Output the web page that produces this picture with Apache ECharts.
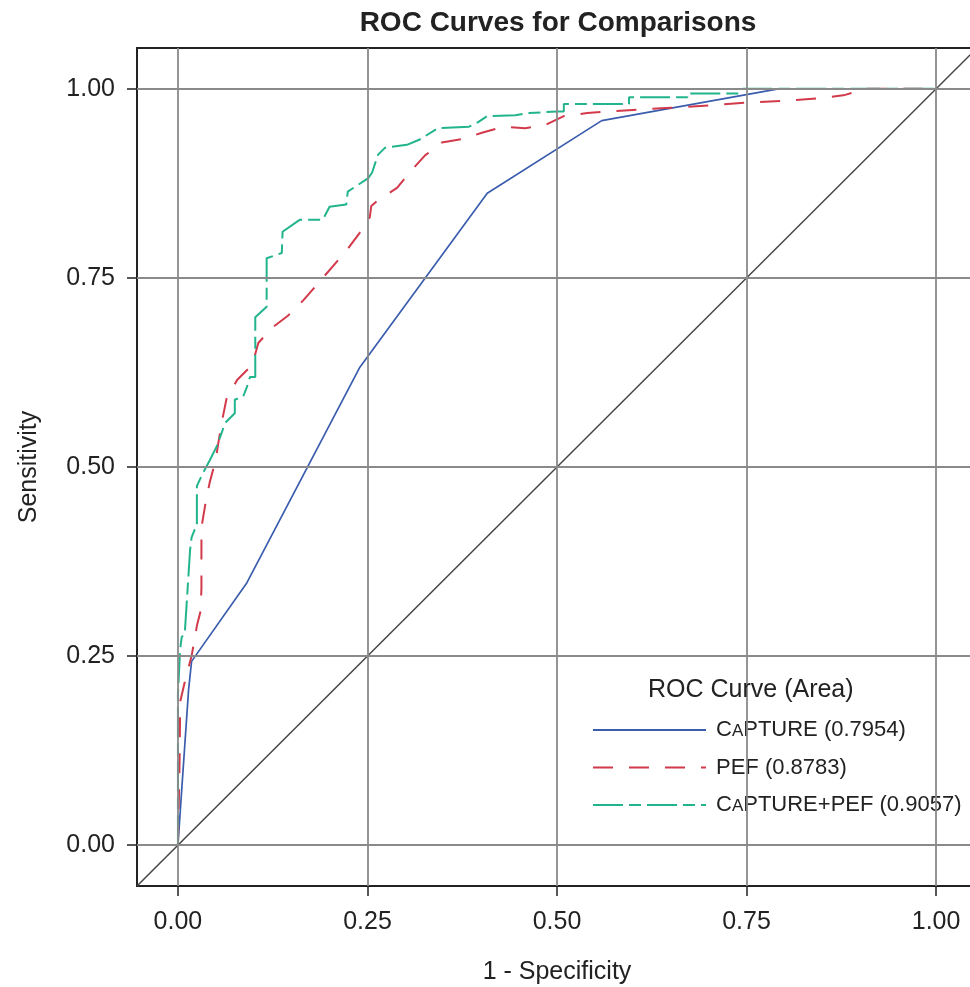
<!DOCTYPE html>
<html>
<head>
<meta charset="utf-8">
<script src="https://cdn.jsdelivr.net/npm/echarts@6/dist/echarts.min.js"></script>
<style>
html,body{margin:0;padding:0;background:#fff;}
#chart{width:970px;height:987px;}
</style>
</head>
<body>
<div id="chart"></div>
<script>
// ---- data ----
const tickValues = [0, 0.25, 0.5, 0.75, 1.0];
const axisMin = -0.054;
const axisMax = 1.054;

const seriesNames = ['CAPTURE (0.7954)', 'PEF (0.8783)', 'CAPTURE+PEF (0.9057)'];

const captureX = [0, 0.014, 0.018, 0.091, 0.240, 0.408, 0.559, 0.792, 1.0];
const captureY = [0, 0.205, 0.243, 0.347, 0.632, 0.862, 0.958, 1.0, 1.0];

const pefX = [0, 0.002, 0.003, 0.010, 0.018, 0.025, 0.030, 0.031, 0.031, 0.036, 0.042, 0.050, 0.053, 0.058, 0.064,
  0.078, 0.098, 0.106, 0.124, 0.145, 0.165, 0.185, 0.204, 0.223, 0.240, 0.253, 0.255, 0.264, 0.289, 0.306,
  0.326, 0.348, 0.377, 0.401, 0.430, 0.458, 0.484, 0.509, 0.540, 0.566, 0.600, 0.650, 0.700, 0.750, 0.800,
  0.850, 0.880, 0.906, 1.0];
const pefY = [0, 0.100, 0.190, 0.220, 0.250, 0.290, 0.310, 0.340, 0.420, 0.450, 0.480, 0.510, 0.530, 0.560, 0.590,
  0.615, 0.635, 0.664, 0.684, 0.700, 0.720, 0.743, 0.765, 0.787, 0.810, 0.830, 0.845, 0.853, 0.869, 0.890,
  0.912, 0.929, 0.934, 0.942, 0.950, 0.948, 0.952, 0.964, 0.968, 0.970, 0.972, 0.975, 0.978, 0.982, 0.984,
  0.988, 0.992, 1.0, 1.0];

const combX = [0, 0, 0.003, 0.005, 0.009, 0.016, 0.018, 0.022, 0.025, 0.025, 0.033, 0.042, 0.051, 0.058, 0.062,
  0.075, 0.075, 0.086, 0.091, 0.095, 0.102, 0.102, 0.117, 0.117, 0.137, 0.138, 0.161, 0.191, 0.200, 0.222,
  0.224, 0.251, 0.256, 0.264, 0.273, 0.302, 0.319, 0.343, 0.384, 0.396, 0.408, 0.445, 0.463, 0.500, 0.509,
  0.509, 0.595, 0.595, 0.672, 0.672, 0.740, 0.745, 1.0];
const combY = [0, 0.200, 0.260, 0.275, 0.280, 0.390, 0.407, 0.417, 0.420, 0.475, 0.492, 0.509, 0.527, 0.546, 0.558,
  0.571, 0.589, 0.593, 0.606, 0.619, 0.619, 0.698, 0.712, 0.776, 0.783, 0.811, 0.827, 0.827, 0.844, 0.847,
  0.864, 0.882, 0.889, 0.913, 0.922, 0.926, 0.933, 0.948, 0.950, 0.956, 0.964, 0.965, 0.968, 0.970, 0.970,
  0.980, 0.980, 0.989, 0.989, 0.994, 0.994, 1.0, 1.0];

const colors = ['#3B5DAD', '#D2394A', '#22B48C'];

// ---- build ----
const zip = (xs, ys) => xs.map((x, i) => [x, ys[i]]);
const FONT = '"Liberation Sans", Arial, Helvetica, sans-serif';
const fmt = v => v.toFixed(2);

const chart = echarts.init(document.getElementById('chart'), null, {renderer: 'canvas'});

const option = {
  animation: false,
  backgroundColor: '#fff',
  textStyle: {fontFamily: FONT, color: '#222'},
  title: [
    {
      text: 'ROC Curves for Comparisons',
      left: 558, top: 9, textAlign: 'center', padding: 0,
      textStyle: {fontFamily: FONT, fontSize: 28, fontWeight: 'bold', color: '#222'}
    },
    {
      text: 'ROC Curve (Area)',
      left: 648, top: 678, padding: 0, z: 10,
      textStyle: {fontFamily: FONT, fontSize: 25, fontWeight: 'normal', color: '#222'}
    }
  ],
  grid: {
    left: 137, top: 48, width: 840, bottom: 101,
    containLabel: false,
    outerBoundsMode: 'none',
    show: true, borderColor: '#222', borderWidth: 2, backgroundColor: '#fff'
  },
  legend: {
    left: 573, top: 658,
    orient: 'vertical',
    backgroundColor: '#fff',
    padding: [61, 90, 28, 19],
    itemWidth: 113, itemHeight: 14, itemGap: 15.5,
    itemStyle: {opacity: 0},
    data: seriesNames,
    formatter: name => name.replace('CAPTURE', 'C{s|A}PTURE'),
    textStyle: {
      fontFamily: FONT, fontSize: 22, lineHeight: 22, color: '#222',
      padding: [0, 0, 0, 5],
      rich: {s: {fontFamily: FONT, fontSize: 17, lineHeight: 17, color: '#222', verticalAlign: 'bottom', padding: [0, 0, 1, 0]}}
    },
    z: 5
  },
  xAxis: {
    type: 'value', min: axisMin, max: axisMax,
    name: '1 - Specificity', nameLocation: 'middle', nameGap: 74,
    nameTextStyle: {fontFamily: FONT, fontSize: 25, color: '#222'},
    axisLine: {show: true, onZero: false, lineStyle: {color: '#222', width: 2}},
    axisTick: {show: true, customValues: tickValues, length: 10, inside: false, lineStyle: {color: '#222', width: 1.5}},
    axisLabel: {customValues: tickValues, formatter: fmt, margin: 24, fontSize: 25, fontFamily: FONT, color: '#222'},
    splitLine: {show: false}
  },
  yAxis: {
    type: 'value', min: axisMin, max: axisMax,
    name: 'Sensitivity', nameLocation: 'middle', nameGap: 95, nameRotate: 90,
    nameTextStyle: {fontFamily: FONT, fontSize: 25, color: '#222'},
    axisLine: {show: true, onZero: false, lineStyle: {color: '#222', width: 2}},
    axisTick: {show: true, customValues: tickValues, length: 10, inside: false, lineStyle: {color: '#222', width: 1.5}},
    axisLabel: {customValues: tickValues, formatter: fmt, margin: 22, fontSize: 25, fontFamily: FONT, color: '#222'},
    splitLine: {show: false}
  },
  series: [
    {
      name: 'reference',
      type: 'line',
      data: [[axisMin, axisMin], [axisMax, axisMax]],
      symbol: 'none', silent: true, z: 1,
      lineStyle: {color: '#444', width: 1.5},
      markLine: {
        silent: true, symbol: 'none', label: {show: false},
        lineStyle: {color: '#8a8a8a', width: 1.8, type: 'solid'},
        data: tickValues.map(v => ({xAxis: v})).concat(tickValues.map(v => ({yAxis: v})))
      }
    },
    {
      name: seriesNames[0], type: 'line', data: zip(captureX, captureY),
      symbol: 'none', z: 3, color: colors[0],
      lineStyle: {color: colors[0], width: 1.7, type: 'solid'}
    },
    {
      name: seriesNames[1], type: 'line', data: zip(pefX, pefY),
      symbol: 'none', z: 3, color: colors[1],
      lineStyle: {color: colors[1], width: 2, type: [20, 16]}
    },
    {
      name: seriesNames[2], type: 'line', data: zip(combX, combY),
      symbol: 'none', z: 3, color: colors[2],
      lineStyle: {color: colors[2], width: 2, type: [30, 6, 12, 6]}
    }
  ]
};
chart.setOption(option);
</script>
</body>
</html>
